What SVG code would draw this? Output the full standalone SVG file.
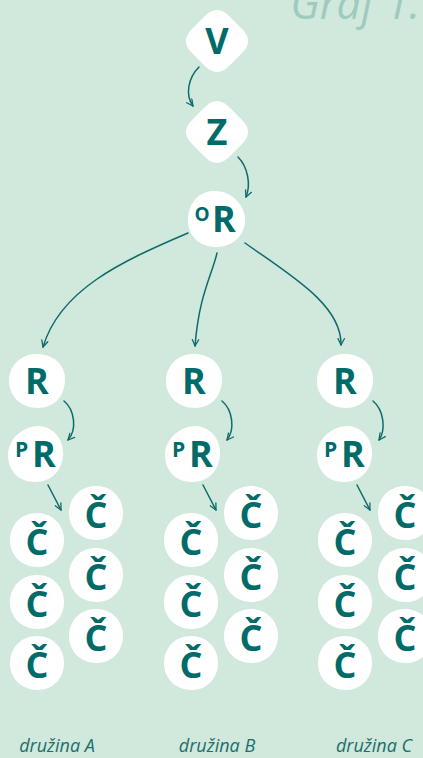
<svg xmlns="http://www.w3.org/2000/svg" xmlns:xlink="http://www.w3.org/1999/xlink" width="423" height="758" viewBox="0 0 423 758">
<style>
.bg{fill:#d1e8dc}
.node{fill:#ffffff}
.lt{font-family:"Open Sans","Noto Sans","DejaVu Sans",sans-serif;font-weight:700;font-size:36px;fill:#006b68;text-anchor:middle}
.sup{font-size:21px}
.sup2{font-size:19px}
.lab{font-family:"Open Sans","Noto Sans",sans-serif;font-style:italic;font-size:18px;fill:#1b6f6c;text-anchor:middle}
.title{font-family:"Open Sans","Noto Sans",sans-serif;font-style:italic;font-size:43px;fill:#9fcabf;text-anchor:end}
.con{fill:none;stroke:#0f6a69;stroke-width:1.5;stroke-linecap:round}
</style>
<defs>
<marker id="ah" viewBox="0 0 10 10" refX="9" refY="5" markerWidth="8" markerHeight="8" markerUnits="userSpaceOnUse" orient="auto">
<path d="M1,1 L9,5 L1,9" fill="none" stroke="#0f6a69" stroke-width="1.6" stroke-linecap="round" stroke-linejoin="round"/>
</marker>
<path id="dia" d="M0,-31 C6,-31 10,-27 14,-23 L23,-14 C27,-10 31,-6 31,0 C31,6 27,10 23,14 L14,23 C10,27 6,31 0,31 C-6,31 -10,27 -14,23 L-23,14 C-27,10 -31,6 -31,0 C-31,-6 -27,-10 -23,-14 L-14,-23 C-10,-27 -6,-31 0,-31 Z"/>
<path id="bor" d="M-3,-28 C14,-29 29,-15 29,1 C29,17 16,28 0,28 C-17,28 -29,16 -28,-1 C-27,-16 -18,-27 -3,-28 Z"/>
<path id="br" d="M-2,-27 C14,-28 28,-18 28,-2 C28,15 17,27 1,27 C-15,27 -28,16 -28,0 C-28,-15 -17,-26 -2,-27 Z"/>
<path id="bp" d="M3,-28 C18,-27 28,-14 27,1 C26,17 15,28 -1,28 C-17,28 -28,17 -28,1 C-28,-15 -13,-28 3,-28 Z"/>
<path id="bc" d="M0,-27 C16,-27 27,-15 27,0 C27,15 16,27 1,27 C-15,27 -27,16 -27,0 C-27,-16 -15,-27 0,-27 Z"/>
</defs>
<rect class="bg" x="0" y="0" width="423" height="758"/>
<text class="title" x="420" y="19">Graf 1.</text>

<g id="connectors">
<path class="con" marker-end="url(#ah)" d="M199,67 C188,78 185,95 193,106"/>
<path class="con" marker-end="url(#ah)" d="M238,157 C248,167 251,185 246,197"/>
<path class="con" marker-end="url(#ah)" d="M188,233 C120,262 60,290 43,347"/>
<path class="con" marker-end="url(#ah)" d="M217,253 C212,275 199,295 195,346"/>
<path class="con" marker-end="url(#ah)" d="M245,243 C290,275 342,305 341,345"/>
<path class="con" marker-end="url(#ah)" d="M64,401 C75,410 77,430 68,440"/>
<path class="con" marker-end="url(#ah)" d="M222,401 C233,410 235,430 227,440"/>
<path class="con" marker-end="url(#ah)" d="M373,401 C384,410 386,430 379,440"/>
<path class="con" marker-end="url(#ah)" d="M48,485 L61,510"/>
<path class="con" marker-end="url(#ah)" d="M203,485 L216,510"/>
<path class="con" marker-end="url(#ah)" d="M357,485 L370,510"/>
</g>

<g id="n-V"><use xlink:href="#dia" class="node" x="217" y="41"/><text class="lt" x="217" y="54">V</text></g>
<g id="n-Z"><use xlink:href="#dia" class="node" x="217" y="132"/><text class="lt" x="217" y="145">Z</text></g>
<g id="n-OR"><use xlink:href="#bor" class="node" x="216" y="219"/><text class="lt"><tspan class="sup2" x="202" y="221">O</tspan><tspan x="224" y="232">R</tspan></text></g>

<g id="n-RA"><use xlink:href="#br" class="node" x="37" y="381"/><text class="lt" x="37" y="394">R</text></g>
<g id="n-RB"><use xlink:href="#br" class="node" x="194" y="381"/><text class="lt" x="194" y="394">R</text></g>
<g id="n-RC"><use xlink:href="#br" class="node" x="345" y="381"/><text class="lt" x="345" y="394">R</text></g>

<g id="n-PRA"><use xlink:href="#bp" class="node" x="36" y="454"/><text class="lt"><tspan class="sup" x="21.5" y="457">P</tspan><tspan x="44" y="467">R</tspan></text></g>
<g id="n-PRB"><use xlink:href="#bp" class="node" x="193" y="454"/><text class="lt"><tspan class="sup" x="178.5" y="457">P</tspan><tspan x="201" y="467">R</tspan></text></g>
<g id="n-PRC"><use xlink:href="#bp" class="node" x="345" y="454"/><text class="lt"><tspan class="sup" x="330.5" y="457">P</tspan><tspan x="353" y="467">R</tspan></text></g>

<g id="n-CA1"><use xlink:href="#bc" class="node" x="37" y="540"/><text class="lt" x="37" y="555">Č</text></g>
<g id="n-CA2"><use xlink:href="#bc" class="node" x="37" y="602"/><text class="lt" x="37" y="617">Č</text></g>
<g id="n-CA3"><use xlink:href="#bc" class="node" x="37" y="663"/><text class="lt" x="37" y="678">Č</text></g>
<g id="n-CA4"><use xlink:href="#bc" class="node" x="96" y="513"/><text class="lt" x="96" y="528">Č</text></g>
<g id="n-CA5"><use xlink:href="#bc" class="node" x="96" y="575"/><text class="lt" x="96" y="590">Č</text></g>
<g id="n-CA6"><use xlink:href="#bc" class="node" x="96" y="636"/><text class="lt" x="96" y="651">Č</text></g>

<g id="n-CB1"><use xlink:href="#bc" class="node" x="191" y="540"/><text class="lt" x="191" y="555">Č</text></g>
<g id="n-CB2"><use xlink:href="#bc" class="node" x="191" y="602"/><text class="lt" x="191" y="617">Č</text></g>
<g id="n-CB3"><use xlink:href="#bc" class="node" x="191" y="663"/><text class="lt" x="191" y="678">Č</text></g>
<g id="n-CB4"><use xlink:href="#bc" class="node" x="251" y="513"/><text class="lt" x="251" y="528">Č</text></g>
<g id="n-CB5"><use xlink:href="#bc" class="node" x="251" y="575"/><text class="lt" x="251" y="590">Č</text></g>
<g id="n-CB6"><use xlink:href="#bc" class="node" x="251" y="636"/><text class="lt" x="251" y="651">Č</text></g>

<g id="n-CC1"><use xlink:href="#bc" class="node" x="345" y="540"/><text class="lt" x="345" y="555">Č</text></g>
<g id="n-CC2"><use xlink:href="#bc" class="node" x="345" y="602"/><text class="lt" x="345" y="617">Č</text></g>
<g id="n-CC3"><use xlink:href="#bc" class="node" x="345" y="663"/><text class="lt" x="345" y="678">Č</text></g>
<g id="n-CC4"><use xlink:href="#bc" class="node" x="405" y="513"/><text class="lt" x="405" y="528">Č</text></g>
<g id="n-CC5"><use xlink:href="#bc" class="node" x="405" y="575"/><text class="lt" x="405" y="590">Č</text></g>
<g id="n-CC6"><use xlink:href="#bc" class="node" x="405" y="636"/><text class="lt" x="405" y="651">Č</text></g>

<g id="labels">
<text class="lab" x="57" y="752">družina A</text>
<text class="lab" x="217" y="752">družina B</text>
<text class="lab" x="374" y="752">družina C</text>
</g>
</svg>
